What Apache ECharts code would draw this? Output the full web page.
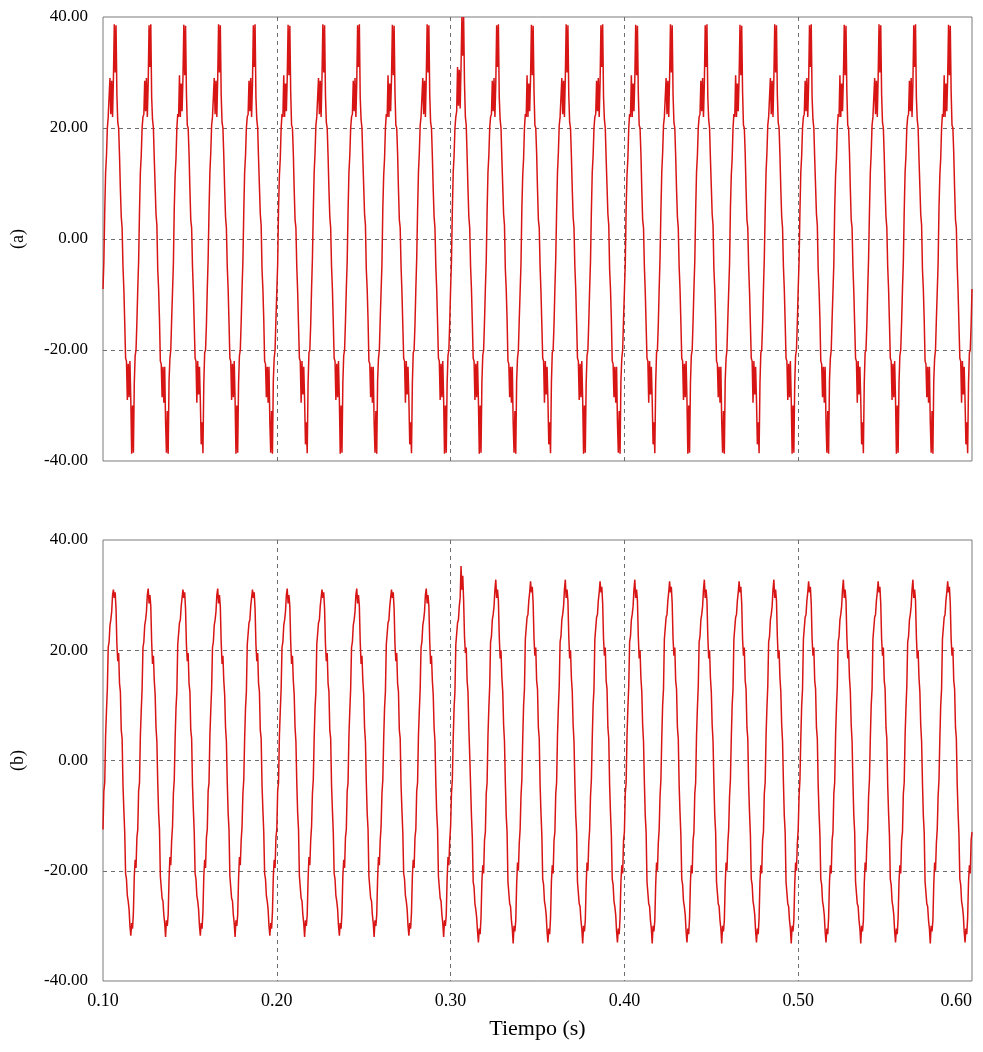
<!DOCTYPE html>
<html>
<head>
<meta charset="utf-8">
<script src="https://cdn.jsdelivr.net/npm/echarts@6/dist/echarts.min.js"></script>
<style>
html, body { margin: 0; padding: 0; background: #fff; }
#chart { width: 983px; height: 1052px; }
</style>
</head>
<body>
<div id="chart"></div>
<script>
// sampling of both traces (s)
var t0 = 0.1;
var dt = 0.0005;

// trace (a), one row per 20 ms cycle
var waveA = [
    -9, -4, 5, 12, 15, 20, 22,
    22, 29, 22.5, 28.5, 22, 29, 38.7, 30, 38.5, 26, 21, 20, 15, 9, 4, 2, -5, -9, -15, -21.5, -22, -29, -22.5, -28.5, -22, -29, -38.7, -30, -38.5, -26, -21, -20, -15, -9, -4, 5, 12, 15, 20, 22,
    22.5, 28.5, 23, 29, 22, 28, 38.5, 31, 38.7, 25.5, 21.5, 20, 14.5, 9.5, 4.5, 2.5, -5.5, -9, -14.5, -22, -22.5, -28.5, -23, -29.5, -23, -33, -38.5, -31, -38.7, -25.5, -21.5, -20, -14.5, -9.5, -4.5, 5.5, 11.5, 14.5, 20, 22.5,
    22, 29.5, 22, 28, 23, 29, 38.6, 29.5, 38.4, 26.5, 20.5, 20, 15.5, 9, 3.5, 2, -5, -9.5, -15.5, -21.5, -22, -29.5, -22, -28, -23, -29, -37, -33, -38.6, -26, -20.5, -20, -15.5, -9, -3.5, 5, 12, 15.5, 20.5, 22,
    22, 29, 22.5, 28.5, 22, 29, 38.7, 30, 38.5, 26, 21, 20, 15, 9, 4, 2, -5, -9, -15, -21.5, -22, -29, -22.5, -28.5, -22, -29, -38.7, -30, -38.5, -26, -21, -20, -15, -9, -4, 5, 12, 15, 20, 22,
    22.5, 28.5, 23, 29, 22, 28, 38.5, 31, 38.7, 25.5, 21.5, 20, 14.5, 9.5, 4.5, 2.5, -5.5, -9, -14.5, -22, -22.5, -28.5, -23, -29.5, -23, -33, -38.5, -31, -38.7, -25.5, -21.5, -20, -14.5, -9.5, -4.5, 5.5, 11.5, 14.5, 20, 22.5,
    22, 29.5, 22, 28, 23, 29, 38.6, 29.5, 38.4, 26.5, 20.5, 20, 15.5, 9, 3.5, 2, -5, -9.5, -15.5, -21.5, -22, -29.5, -22, -28, -23, -29, -37, -33, -38.6, -26, -20.5, -20, -15.5, -9, -3.5, 5, 12, 15.5, 20.5, 22,
    22, 29, 22.5, 28.5, 22, 29, 38.7, 30, 38.5, 26, 21, 20, 15, 9, 4, 2, -5, -9, -15, -21.5, -22, -29, -22.5, -28.5, -22, -29, -38.7, -30, -38.5, -26, -21, -20, -15, -9, -4, 5, 12, 15, 20, 22,
    22.5, 28.5, 23, 29, 22, 28, 38.5, 31, 38.7, 25.5, 21.5, 20, 14.5, 9.5, 4.5, 2.5, -5.5, -9, -14.5, -22, -22.5, -28.5, -23, -29.5, -23, -33, -38.5, -31, -38.7, -25.5, -21.5, -20, -14.5, -9.5, -4.5, 5.5, 11.5, 14.5, 20, 22.5,
    22, 29.5, 22, 28, 23, 29, 38.6, 29.5, 38.4, 26.5, 20.5, 20, 15.5, 9, 3.5, 2, -5, -9.5, -15.5, -21.5, -22, -29.5, -22, -28, -23, -29, -37, -33, -38.6, -26, -20.5, -20, -15.5, -9, -3.5, 5, 12, 15.5, 20.5, 22,
    22, 29, 22.5, 28.5, 22, 29, 38.7, 30, 38.5, 26, 21, 20, 15, 9, 4, 2, -5, -9, -15, -21.5, -22, -29, -22.5, -28.5, -22, -29, -38.7, -30, -38.5, -26, -21, -20, -15, -9, -4, 5, 12, 15, 20, 22,
    23, 31, 24, 30.5, 23.5, 31, 40, 33, 40, 28, 22, 20.5, 15, 9, 4, 2, -5, -9, -15, -21.5, -22, -29, -22.5, -28.5, -22, -29, -38.7, -30, -38.5, -26, -21, -20, -15, -9, -4, 5, 12, 15, 20, 22,
    22.5, 28.5, 23, 29, 22, 28, 38.5, 31, 38.7, 25.5, 21.5, 20, 14.5, 9.5, 4.5, 2.5, -5.5, -9, -14.5, -22, -22.5, -28.5, -23, -29.5, -23, -33, -38.5, -31, -38.7, -25.5, -21.5, -20, -14.5, -9.5, -4.5, 5.5, 11.5, 14.5, 20, 22.5,
    22, 29.5, 22, 28, 23, 29, 38.6, 29.5, 38.4, 26.5, 20.5, 20, 15.5, 9, 3.5, 2, -5, -9.5, -15.5, -21.5, -22, -29.5, -22, -28, -23, -29, -37, -33, -38.6, -26, -20.5, -20, -15.5, -9, -3.5, 5, 12, 15.5, 20.5, 22,
    22, 29, 22.5, 28.5, 22, 29, 38.7, 30, 38.5, 26, 21, 20, 15, 9, 4, 2, -5, -9, -15, -21.5, -22, -29, -22.5, -28.5, -22, -29, -38.7, -30, -38.5, -26, -21, -20, -15, -9, -4, 5, 12, 15, 20, 22,
    22.5, 28.5, 23, 29, 22, 28, 38.5, 31, 38.7, 25.5, 21.5, 20, 14.5, 9.5, 4.5, 2.5, -5.5, -9, -14.5, -22, -22.5, -28.5, -23, -29.5, -23, -33, -38.5, -31, -38.7, -25.5, -21.5, -20, -14.5, -9.5, -4.5, 5.5, 11.5, 14.5, 20, 22.5,
    22, 29.5, 22, 28, 23, 29, 38.6, 29.5, 38.4, 26.5, 20.5, 20, 15.5, 9, 3.5, 2, -5, -9.5, -15.5, -21.5, -22, -29.5, -22, -28, -23, -29, -37, -33, -38.6, -26, -20.5, -20, -15.5, -9, -3.5, 5, 12, 15.5, 20.5, 22,
    22, 29, 22.5, 28.5, 22, 29, 38.7, 30, 38.5, 26, 21, 20, 15, 9, 4, 2, -5, -9, -15, -21.5, -22, -29, -22.5, -28.5, -22, -29, -38.7, -30, -38.5, -26, -21, -20, -15, -9, -4, 5, 12, 15, 20, 22,
    22.5, 28.5, 23, 29, 22, 28, 38.5, 31, 38.7, 25.5, 21.5, 20, 14.5, 9.5, 4.5, 2.5, -5.5, -9, -14.5, -22, -22.5, -28.5, -23, -29.5, -23, -33, -38.5, -31, -38.7, -25.5, -21.5, -20, -14.5, -9.5, -4.5, 5.5, 11.5, 14.5, 20, 22.5,
    22, 29.5, 22, 28, 23, 29, 38.6, 29.5, 38.4, 26.5, 20.5, 20, 15.5, 9, 3.5, 2, -5, -9.5, -15.5, -21.5, -22, -29.5, -22, -28, -23, -29, -37, -33, -38.6, -26, -20.5, -20, -15.5, -9, -3.5, 5, 12, 15.5, 20.5, 22,
    22, 29, 22.5, 28.5, 22, 29, 38.7, 30, 38.5, 26, 21, 20, 15, 9, 4, 2, -5, -9, -15, -21.5, -22, -29, -22.5, -28.5, -22, -29, -38.7, -30, -38.5, -26, -21, -20, -15, -9, -4, 5, 12, 15, 20, 22,
    22.5, 28.5, 23, 29, 22, 28, 38.5, 31, 38.7, 25.5, 21.5, 20, 14.5, 9.5, 4.5, 2.5, -5.5, -9, -14.5, -22, -22.5, -28.5, -23, -29.5, -23, -33, -38.5, -31, -38.7, -25.5, -21.5, -20, -14.5, -9.5, -4.5, 5.5, 11.5, 14.5, 20, 22.5,
    22, 29.5, 22, 28, 23, 29, 38.6, 29.5, 38.4, 26.5, 20.5, 20, 15.5, 9, 3.5, 2, -5, -9.5, -15.5, -21.5, -22, -29.5, -22, -28, -23, -29, -37, -33, -38.6, -26, -20.5, -20, -15.5, -9, -3.5, 5, 12, 15.5, 20.5, 22,
    22, 29, 22.5, 28.5, 22, 29, 38.7, 30, 38.5, 26, 21, 20, 15, 9, 4, 2, -5, -9, -15, -21.5, -22, -29, -22.5, -28.5, -22, -29, -38.7, -30, -38.5, -26, -21, -20, -15, -9, -4, 5, 12, 15, 20, 22,
    22.5, 28.5, 23, 29, 22, 28, 38.5, 31, 38.7, 25.5, 21.5, 20, 14.5, 9.5, 4.5, 2.5, -5.5, -9, -14.5, -22, -22.5, -28.5, -23, -29.5, -23, -33, -38.5, -31, -38.7, -25.5, -21.5, -20, -14.5, -9.5, -4.5, 5.5, 11.5, 14.5, 20, 22.5,
    22, 29.5, 22, 28, 23, 29, 38.6, 29.5, 38.4, 26.5, 20.5, 20, 15.5, 9, 3.5, 2, -5, -9.5, -15.5, -21.5, -22, -29.5, -22, -28, -23, -29, -37, -33, -38.6, -26, -20.5, -20, -15.5, -9
];

// trace (b)
var waveB = [
    -12.5, -5.5, -4, 4.5, 9, 13, 20.5, 21.5, 24.5, 25.5, 27, 30,
    // 0.106 .. 0.286
    31, 29.5, 30.5, 27.5, 21, 18, 19.5, 14, 12.5, 5.5, 4, -4.5, -9, -13, -20.5, -21.5, -24.5, -25.5, -27, -30, -31.8, -29.5, -30.5, -27.5, -21, -18, -19.5, -14, -12.5, -5.5, -4, 4.5, 9, 13, 20.5, 21.5, 24.5, 25.5, 27, 30,
    31.2, 28.5, 30, 28, 21.5, 17.5, 19, 14.5, 12, 6, 3.5, -4, -9.5, -12.5, -21, -21, -25, -25.5, -28, -29.5, -32, -29, -30, -28, -21.5, -17.5, -19, -14.5, -12, -6, -3.5, 4, 9.5, 12.5, 21, 21, 25, 25.5, 28, 29.5,
    31, 29.5, 30.5, 27.5, 21, 18, 19.5, 14, 12.5, 5.5, 4, -4.5, -9, -13, -20.5, -21.5, -24.5, -25.5, -27, -30, -31.8, -29.5, -30.5, -27.5, -21, -18, -19.5, -14, -12.5, -5.5, -4, 4.5, 9, 13, 20.5, 21.5, 24.5, 25.5, 27, 30,
    31.2, 28.5, 30, 28, 21.5, 17.5, 19, 14.5, 12, 6, 3.5, -4, -9.5, -12.5, -21, -21, -25, -25.5, -28, -29.5, -32, -29, -30, -28, -21.5, -17.5, -19, -14.5, -12, -6, -3.5, 4, 9.5, 12.5, 21, 21, 25, 25.5, 28, 29.5,
    31, 29.5, 30.5, 27.5, 21, 18, 19.5, 14, 12.5, 5.5, 4, -4.5, -9, -13, -20.5, -21.5, -24.5, -25.5, -27, -30, -31.8, -29.5, -30.5, -27.5, -21, -18, -19.5, -14, -12.5, -5.5, -4, 4.5, 9, 13, 20.5, 21.5, 24.5, 25.5, 27, 30,
    31.2, 28.5, 30, 28, 21.5, 17.5, 19, 14.5, 12, 6, 3.5, -4, -9.5, -12.5, -21, -21, -25, -25.5, -28, -29.5, -32, -29, -30, -28, -21.5, -17.5, -19, -14.5, -12, -6, -3.5, 4, 9.5, 12.5, 21, 21, 25, 25.5, 28, 29.5,
    31, 29.5, 30.5, 27.5, 21, 18, 19.5, 14, 12.5, 5.5, 4, -4.5, -9, -13, -20.5, -21.5, -24.5, -25.5, -27, -30, -31.8, -29.5, -30.5, -27.5, -21, -18, -19.5, -14, -12.5, -5.5, -4, 4.5, 9, 13, 20.5, 21.5, 24.5, 25.5, 27, 30,
    31.2, 28.5, 30, 28, 21.5, 17.5, 19, 14.5, 12, 6, 3.5, -4, -9.5, -12.5, -21, -21, -25, -25.5, -28, -29.5, -32, -29, -30, -28, -21.5, -17.5, -19, -14.5, -12, -6, -3.5, 4, 9.5, 12.5, 21, 21, 25, 25.5, 28, 29.5,
    31, 29.5, 30.5, 27.5, 21, 18, 19.5, 14, 12.5, 5.5, 4, -4.5, -9, -13, -20.5, -21.5, -24.5, -25.5, -27, -30, -31.8, -29.5, -30.5, -27.5, -21, -18, -19.5, -14, -12.5, -5.5, -4, 4.5, 9, 13, 20.5, 21.5, 24.5, 25.5, 27, 30,
    31.2, 28.5, 30, 28, 21.5, 17.5, 19, 14.5, 12, 6, 3.5, -4, -9.5, -12.5, -21, -21, -25, -25.5, -28, -29.5, -32, -29, -30, -28, -21.5, -17.5, -19, -14.5, -12, -6, -3.5, 4, 9.5, 12.5, 21, 21, 25, 25.5, 28, 29.5,
    // 0.306, disturbance
    35.3, 31, 33.5, 29, 22.5, 19.5, 20.5, 14.5, 12.5, 6, 1, -4.5, -10, -14, -22, -23, -26, -27, -28.5, -31, -33, -30.5, -31.5, -28.5, -22, -19, -20.5, -14.5, -13, -6, -4, 4.5, 9.5, 13.5, 21.5, 22.5, 25.5, 26.5, 28, 31,
    // 0.326 .. 0.566
    32.8, 29.5, 31, 29, 22.5, 18.5, 20, 15, 12.5, 6.5, 3.5, -4, -10, -13, -22, -22, -26, -26.5, -29, -30.5, -33.2, -30, -31, -29, -22.5, -18.5, -20, -15, -12.5, -6.5, -3.5, 4, 10, 13, 22, 22, 26, 26.5, 29, 30.5,
    32.5, 30.5, 31.5, 28.5, 22, 19, 20.5, 14.5, 13, 6, 4, -4.5, -9.5, -13.5, -21.5, -22.5, -25.5, -26.5, -28, -31, -33, -30.5, -31.5, -28.5, -22, -19, -20.5, -14.5, -13, -6, -4, 4.5, 9.5, 13.5, 21.5, 22.5, 25.5, 26.5, 28, 31,
    32.8, 29.5, 31, 29, 22.5, 18.5, 20, 15, 12.5, 6.5, 3.5, -4, -10, -13, -22, -22, -26, -26.5, -29, -30.5, -33.2, -30, -31, -29, -22.5, -18.5, -20, -15, -12.5, -6.5, -3.5, 4, 10, 13, 22, 22, 26, 26.5, 29, 30.5,
    32.5, 30.5, 31.5, 28.5, 22, 19, 20.5, 14.5, 13, 6, 4, -4.5, -9.5, -13.5, -21.5, -22.5, -25.5, -26.5, -28, -31, -33, -30.5, -31.5, -28.5, -22, -19, -20.5, -14.5, -13, -6, -4, 4.5, 9.5, 13.5, 21.5, 22.5, 25.5, 26.5, 28, 31,
    32.8, 29.5, 31, 29, 22.5, 18.5, 20, 15, 12.5, 6.5, 3.5, -4, -10, -13, -22, -22, -26, -26.5, -29, -30.5, -33.2, -30, -31, -29, -22.5, -18.5, -20, -15, -12.5, -6.5, -3.5, 4, 10, 13, 22, 22, 26, 26.5, 29, 30.5,
    32.5, 30.5, 31.5, 28.5, 22, 19, 20.5, 14.5, 13, 6, 4, -4.5, -9.5, -13.5, -21.5, -22.5, -25.5, -26.5, -28, -31, -33, -30.5, -31.5, -28.5, -22, -19, -20.5, -14.5, -13, -6, -4, 4.5, 9.5, 13.5, 21.5, 22.5, 25.5, 26.5, 28, 31,
    32.8, 29.5, 31, 29, 22.5, 18.5, 20, 15, 12.5, 6.5, 3.5, -4, -10, -13, -22, -22, -26, -26.5, -29, -30.5, -33.2, -30, -31, -29, -22.5, -18.5, -20, -15, -12.5, -6.5, -3.5, 4, 10, 13, 22, 22, 26, 26.5, 29, 30.5,
    32.5, 30.5, 31.5, 28.5, 22, 19, 20.5, 14.5, 13, 6, 4, -4.5, -9.5, -13.5, -21.5, -22.5, -25.5, -26.5, -28, -31, -33, -30.5, -31.5, -28.5, -22, -19, -20.5, -14.5, -13, -6, -4, 4.5, 9.5, 13.5, 21.5, 22.5, 25.5, 26.5, 28, 31,
    32.8, 29.5, 31, 29, 22.5, 18.5, 20, 15, 12.5, 6.5, 3.5, -4, -10, -13, -22, -22, -26, -26.5, -29, -30.5, -33.2, -30, -31, -29, -22.5, -18.5, -20, -15, -12.5, -6.5, -3.5, 4, 10, 13, 22, 22, 26, 26.5, 29, 30.5,
    32.5, 30.5, 31.5, 28.5, 22, 19, 20.5, 14.5, 13, 6, 4, -4.5, -9.5, -13.5, -21.5, -22.5, -25.5, -26.5, -28, -31, -33, -30.5, -31.5, -28.5, -22, -19, -20.5, -14.5, -13, -6, -4, 4.5, 9.5, 13.5, 21.5, 22.5, 25.5, 26.5, 28, 31,
    32.8, 29.5, 31, 29, 22.5, 18.5, 20, 15, 12.5, 6.5, 3.5, -4, -10, -13, -22, -22, -26, -26.5, -29, -30.5, -33.2, -30, -31, -29, -22.5, -18.5, -20, -15, -12.5, -6.5, -3.5, 4, 10, 13, 22, 22, 26, 26.5, 29, 30.5,
    32.5, 30.5, 31.5, 28.5, 22, 19, 20.5, 14.5, 13, 6, 4, -4.5, -9.5, -13.5, -21.5, -22.5, -25.5, -26.5, -28, -31, -33, -30.5, -31.5, -28.5, -22, -19, -20.5, -14.5, -13, -6, -4, 4.5, 9.5, 13.5, 21.5, 22.5, 25.5, 26.5, 28, 31,
    32.8, 29.5, 31, 29, 22.5, 18.5, 20, 15, 12.5, 6.5, 3.5, -4, -10, -13, -22, -22, -26, -26.5, -29, -30.5, -33.2, -30, -31, -29, -22.5, -18.5, -20, -15, -12.5, -6.5, -3.5, 4, 10, 13, 22, 22, 26, 26.5, 29, 30.5,
    // 0.586 .. 0.600
    32.5, 30.5, 31.5, 28.5, 22, 19, 20.5, 14.5, 13, 6, 4, -4.5, -9.5, -13.5, -21.5, -22.5, -25.5, -26.5, -28, -31, -33, -30.5, -31.5, -28.5, -22, -19, -20.5, -14.5, -13
];

var panelNames = ['(a)', '(b)'];
var xName = 'Tiempo (s)';

function toPairs(vals) {
    return vals.map(function (v, i) {
        return [t0 + i * dt, v];
    });
}

var font = "'Liberation Serif', 'DejaVu Serif', serif";
var gridLine = { color: '#6e6e6e', type: [4, 4], width: 1 };

function makeX(idx, showLabels) {
    return {
        gridIndex: idx,
        type: 'value',
        min: 0.1,
        max: 0.6,
        interval: 0.1,
        axisLine: { show: false },
        axisTick: { show: false },
        axisLabel: {
            show: showLabels,
            margin: 11,
            color: '#000',
            fontFamily: font,
            fontSize: 18,
            alignMaxLabel: 'right',
            formatter: function (v) { return v.toFixed(2); }
        },
        splitLine: { show: true, showMinLine: false, showMaxLine: false, lineStyle: gridLine },
        name: showLabels ? xName : '',
        nameLocation: 'middle',
        nameGap: 37,
        nameTextStyle: { color: '#000', fontFamily: font, fontSize: 22 }
    };
}

function makeY(idx) {
    return {
        gridIndex: idx,
        type: 'value',
        min: -40,
        max: 40,
        interval: 20,
        axisLine: { show: false },
        axisTick: { show: false },
        axisLabel: {
            margin: 15,
            color: '#000',
            fontFamily: font,
            fontSize: 17,
            formatter: function (v) { return v.toFixed(2); }
        },
        splitLine: { show: true, showMinLine: false, showMaxLine: false, lineStyle: gridLine },
        name: panelNames[idx],
        nameLocation: 'middle',
        nameRotate: 90,
        nameGap: 76,
        nameTextStyle: { color: '#000', fontFamily: font, fontSize: 18 }
    };
}

function makeSeries(idx, vals) {
    return {
        type: 'line',
        xAxisIndex: idx,
        yAxisIndex: idx,
        data: toPairs(vals),
        step: 'end',
        showSymbol: false,
        lineStyle: { color: '#d81515', width: 1.5 },
        silent: true
    };
}

var myChart = echarts.init(document.getElementById('chart'));
var option = {
    backgroundColor: '#fff',
    animation: false,
    grid: [
        { left: 103, top: 17, width: 869, height: 444, show: true, borderColor: '#7a7a7a', borderWidth: 1, backgroundColor: '#fff', outerBoundsMode: 'none', containLabel: false },
        { left: 103, top: 540, width: 869, height: 441, show: true, borderColor: '#7a7a7a', borderWidth: 1, backgroundColor: '#fff', outerBoundsMode: 'none', containLabel: false }
    ],
    xAxis: [makeX(0, false), makeX(1, true)],
    yAxis: [makeY(0), makeY(1)],
    series: [makeSeries(0, waveA), makeSeries(1, waveB)]
};
myChart.setOption(option);
</script>
</body>
</html>
